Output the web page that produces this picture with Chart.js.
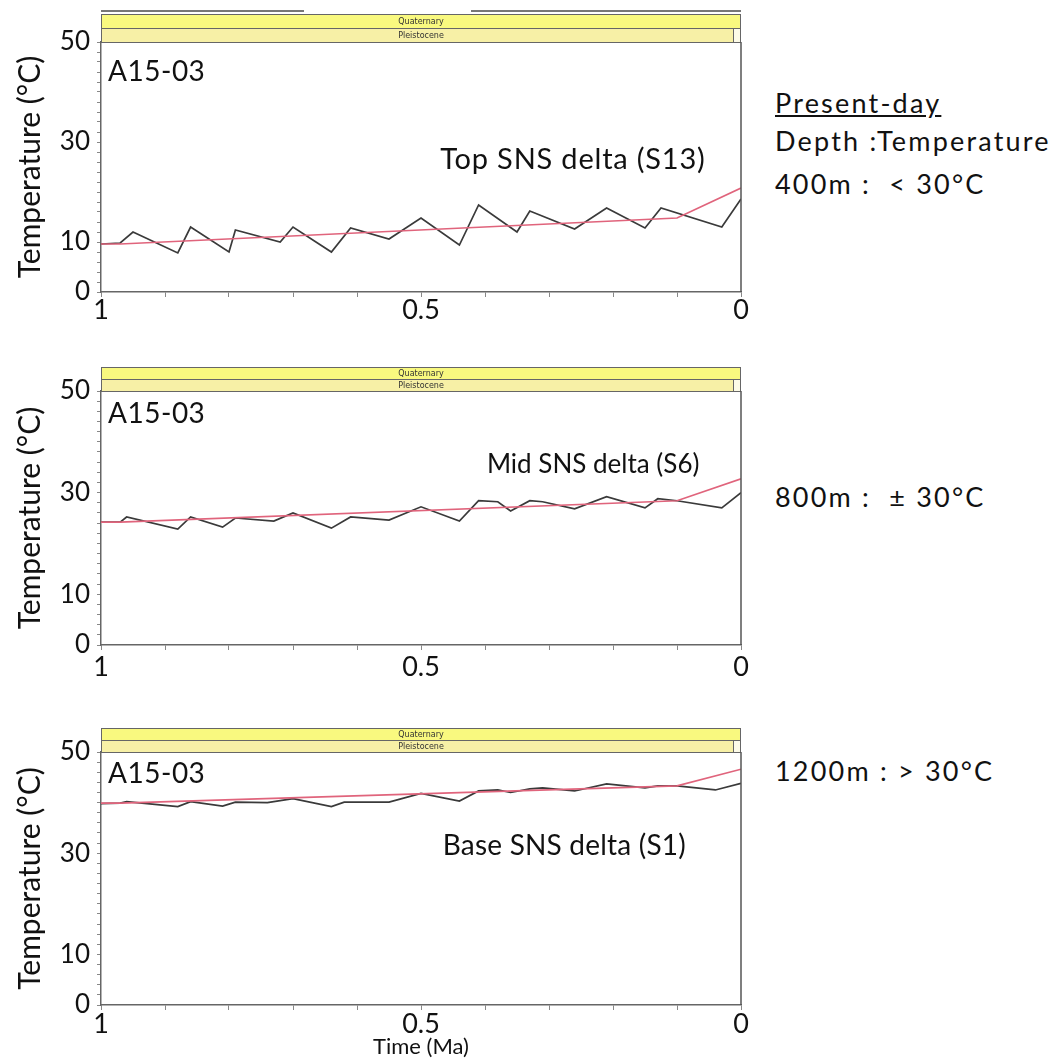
<!DOCTYPE html>
<html><head><meta charset="utf-8">
<script src="https://cdn.jsdelivr.net/npm/chart.js@4"></script>
<style>
html,body{margin:0;padding:0;background:#fff}
body{width:1059px;height:1059px;overflow:hidden;position:relative;font-family:Lato,"Open Sans",sans-serif}
canvas{position:absolute;left:0}
.note{position:absolute;left:775px;font-family:Lato,sans-serif;font-size:27px;letter-spacing:2.2px;line-height:34px;color:#111;white-space:nowrap}
</style></head><body>
<canvas id="c1" width="760" height="330" style="top:0px"></canvas>
<canvas id="c2" width="760" height="330" style="top:355px"></canvas>
<canvas id="c3" width="760" height="344" style="top:715px"></canvas>
<div class="note" style="top:86px;text-decoration:underline">Present-day</div>
<div class="note" style="top:124px">Depth :Temperature</div>
<div class="note" style="top:167px">400m :&nbsp; &lt; 30°C</div>
<div class="note" style="top:480px">800m :&nbsp; ± 30°C</div>
<div class="note" style="top:754px">1200m : &gt; 30°C</div>
<script>
// ---- data (time in Ma, temperature in °C) ----
const topTime  = [1, 0.97, 0.95, 0.88, 0.86, 0.80, 0.79, 0.72, 0.70, 0.64, 0.61, 0.55, 0.50, 0.44, 0.41, 0.35, 0.33, 0.26, 0.21, 0.15, 0.125, 0.03, 0];
const topTemp  = [9.6, 9.8, 12.0, 7.8, 13.0, 8.0, 12.4, 10.0, 13.0, 8.0, 12.8, 10.6, 14.8, 9.4, 17.4, 12.0, 16.2, 12.6, 16.8, 12.8, 16.8, 13.0, 18.6];
const topTrendTime = [1, 0.97, 0.10, 0];
const topTrendTemp = [9.6, 9.6, 14.8, 20.8];

const midTime  = [1.0, 0.97, 0.96, 0.88, 0.86, 0.81, 0.79, 0.73, 0.70, 0.64, 0.61, 0.55, 0.50, 0.44, 0.41, 0.38, 0.36, 0.33, 0.31, 0.26, 0.21, 0.15, 0.13, 0.10, 0.03, 0];
const midTemp  = [24.2, 24.2, 25.2, 22.8, 25.2, 23.2, 25.0, 24.4, 26.0, 23.0, 25.2, 24.6, 27.2, 24.4, 28.4, 28.2, 26.4, 28.4, 28.2, 26.8, 29.2, 27.0, 28.8, 28.4, 27.0, 30.0];
const midTrendTime = [1, 0.97, 0.10, 0];
const midTrendTemp = [24.2, 24.2, 28.4, 32.7];

const baseTime = [1.0, 0.97, 0.96, 0.88, 0.86, 0.81, 0.79, 0.74, 0.70, 0.64, 0.62, 0.55, 0.50, 0.44, 0.41, 0.38, 0.36, 0.33, 0.31, 0.26, 0.21, 0.15, 0.13, 0.10, 0.04, 0];
const baseTemp = [39.8, 39.9, 40.2, 39.2, 40.2, 39.3, 40.1, 40.0, 40.8, 39.2, 40.1, 40.1, 41.8, 40.3, 42.3, 42.5, 42.0, 42.7, 42.9, 42.3, 43.7, 42.9, 43.3, 43.3, 42.5, 43.8];
const baseTrendTime = [1, 0.97, 0.10, 0];
const baseTrendTemp = [39.9, 39.9, 43.3, 46.6];

const xTickLabels = [1, 0.5, 0];
const yTickLabels = [0, 10, 30, 50];
const wellName = 'A15-03';
const panelTitles = ['Top SNS delta (S13)', 'Mid SNS delta (S6)', 'Base SNS delta (S1)'];
const periodName = 'Quaternary';
const epochName = 'Pleistocene';

const FONT = 'Lato, "Open Sans", sans-serif';
const pts = (xs, ys) => xs.map((x, i) => ({x, y: ys[i]}));

const geoBars = {
  id: 'geoBars',
  afterDraw(chart, args, o) {
    const {ctx, chartArea: a} = chart;
    const h = o.barH, w = a.right - a.left;
    ctx.save();
    const yP = a.top - h, yQ = a.top - 2 * h;
    if (o.topLine) {
      ctx.strokeStyle = '#777'; ctx.lineWidth = 2;
      ctx.beginPath(); ctx.moveTo(a.left, yQ - 3); ctx.lineTo(a.left + 203, yQ - 3);
      ctx.moveTo(a.left + 370, yQ - 3); ctx.lineTo(a.right, yQ - 3); ctx.stroke();
    }
    ctx.fillStyle = '#f9f97f'; ctx.fillRect(a.left, yQ, w, h);
    ctx.fillStyle = '#f7f0a6'; ctx.fillRect(a.left, yP, w, h);
    ctx.fillStyle = '#fdfbe8'; ctx.fillRect(a.right - 7, yP, 7, h);
    ctx.strokeStyle = '#666'; ctx.lineWidth = 1;
    ctx.strokeRect(a.left + 0.5, yQ + 0.5, w - 1, h);
    ctx.strokeRect(a.left + 0.5, yP + 0.5, w - 1, h);
    ctx.beginPath(); ctx.moveTo(a.right - 7.5, yP); ctx.lineTo(a.right - 7.5, yP + h); ctx.stroke();
    ctx.fillStyle = '#333'; ctx.font = '8px "DejaVu Sans", sans-serif';
    ctx.textAlign = 'center'; ctx.textBaseline = 'middle';
    const cx = (a.left + a.right) / 2;
    ctx.fillText(periodName, cx, yQ + h / 2 + 1);
    ctx.fillText(epochName, cx, yP + h / 2 + 1);
    // plot frame, right edge
    ctx.strokeStyle = '#555'; ctx.lineWidth = 1.5;
    ctx.beginPath(); ctx.moveTo(a.right, a.top); ctx.lineTo(a.right, a.bottom); ctx.stroke();
    // labels in data coordinates
    const sx = chart.scales.x, sy = chart.scales.y;
    ctx.fillStyle = '#111'; ctx.textAlign = 'left'; ctx.textBaseline = 'middle';
    ctx.font = '28px ' + FONT; ctx.letterSpacing = '0.5px';
    ctx.fillText(wellName, sx.getPixelForValue(o.wellAt[0]), sy.getPixelForValue(o.wellAt[1]));
    ctx.font = o.titleSize + 'px ' + FONT; ctx.letterSpacing = o.titleSpacing;
    ctx.fillText(o.title, sx.getPixelForValue(o.titleAt[0]), sy.getPixelForValue(o.titleAt[1]));
    ctx.restore();
  }
};

function makePanel(id, c) {
  const el = document.getElementById(id);
  const H = el.height;
  return new Chart(el, {
    type: 'line',
    data: {
      datasets: [
        {data: pts(c.time, c.temp), borderColor: '#3a3a3a', borderWidth: 1.7, pointRadius: 0, tension: 0, order: 2},
        {data: pts(c.trendTime, c.trendTemp), borderColor: '#e0647c', borderWidth: 1.7, pointRadius: 0, tension: 0, order: 1}
      ]
    },
    options: {
      responsive: false, animation: false,
      layout: {padding: {top: c.top, right: 19, left: 0, bottom: 0}},
      plugins: {legend: {display: false}, tooltip: {enabled: false},
        geoBars: {barH: c.barH, topLine: c.topLine, title: c.title, titleAt: c.titleAt, wellAt: c.wellAt,
                  titleSize: c.titleSize, titleSpacing: c.titleSpacing}},
      scales: {
        x: {
          type: 'linear', min: 0, max: 1, reverse: true,
          afterFit: s => { s.height = H - c.bottom; },
          grid: {drawOnChartArea: false, tickLength: 5, color: '#888'},
          border: {color: '#666', width: 1.5},
          ticks: {stepSize: 0.1, autoSkip: false, maxRotation: 0, padding: c.xPad, color: '#111',
            font: {family: FONT, size: 27},
            callback: v => { const m = xTickLabels.find(t => Math.abs(t - v) < 1e-6); return m === undefined ? '' : String(m); }},
          title: {display: !!c.xTitle, text: 'Time (Ma)', color: '#111', font: {family: FONT, size: 22, lineHeight: 1}, padding: {top: 0, bottom: 1}}
        },
        y: {
          min: 0, max: 50,
          afterFit: s => { s.width = 101; },
          grid: {drawOnChartArea: false, tickLength: 4, color: '#888'},
          border: {color: '#666', width: 1.5},
          ticks: {stepSize: 2, autoSkip: false, padding: 7, color: '#111',
            font: {family: FONT, size: 26},
            callback: v => yTickLabels.includes(v) ? String(v) : ''},
          title: {display: true, text: 'Temperature (°C)', color: '#111', font: {family: FONT, size: 30}, padding: {top: 12, bottom: 0}}
        }
      }
    },
    plugins: [geoBars]
  });
}

makePanel('c1', {time: topTime, temp: topTemp, trendTime: topTrendTime, trendTemp: topTrendTemp,
  top: 42, bottom: 292, barH: 14, topLine: true, xPad: -3, title: panelTitles[0], titleAt: [0.47, 26.4], wellAt: [0.989, 44],
  titleSize: 29, titleSpacing: '0.8px'});
makePanel('c2', {time: midTime, temp: midTemp, trendTime: midTrendTime, trendTemp: midTrendTemp,
  top: 36, bottom: 290, barH: 12, topLine: false, xPad: 1, title: panelTitles[1], titleAt: [0.397, 35.5], wellAt: [0.989, 45.4],
  titleSize: 26, titleSpacing: '0px'});
makePanel('c3', {time: baseTime, temp: baseTemp, trendTime: baseTrendTime, trendTemp: baseTrendTemp,
  top: 37, bottom: 290, barH: 12, topLine: false, xPad: -2, xTitle: true, title: panelTitles[2], titleAt: [0.466, 31.5], wellAt: [0.989, 45.6],
  titleSize: 28, titleSpacing: '0.2px'});
</script>
</body></html>
